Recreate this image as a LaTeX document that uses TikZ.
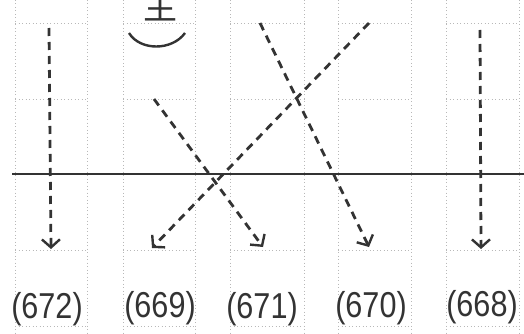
\documentclass[tikz,border=0pt]{standalone}
\usepackage{fontspec}
\setmainfont{Liberation Sans}
\newfontfamily\cjkfont{Noto Sans CJK SC}
\usetikzlibrary{arrows.meta}
\definecolor{ink}{HTML}{333333}
\definecolor{gridc}{HTML}{B8B8B8}
\tikzset{
  gridline/.style={gridc, line width=0.8pt, dash pattern=on 1pt off 2.5pt},
  dasharrow/.style={ink, line width=2.8pt, dash pattern=on 8pt off 6pt,
    -{Straight Barb[length=8pt,width=18pt,line width=2.4pt]}},
  label/.style={ink, font=\fontsize{36}{40}\selectfont, inner sep=0pt},
  baseline/.style={ink, line width=2.6pt}
}
\begin{document}
\begin{tikzpicture}[x=1pt,y=-1pt]
\useasboundingbox (0,0) rectangle (524,334);
\clip (0,0) rectangle (524,334);
% dotted grid columns
\foreach \l/\r in {15/87,123/195,230/304,338/411,446/519}{
  \draw[gridline] (\l,0) -- (\l,334);
  \draw[gridline] (\r,0) -- (\r,334);
  \foreach \y in {23,99,250,326}{
    \draw[gridline] (\l,\y) -- (\r,\y);
  }
}
% character and arc
\node[ink, font=\cjkfont\fontsize{34}{34}\selectfont, inner sep=0pt] (zhu) at (160,6) {主};
\coordinate (arcL) at (129,33);
\coordinate (arcR) at (185,33);
\draw[ink, line width=2.4pt] (arcL) .. controls (140,51) and (172,51) .. (arcR);
% solid baseline
\coordinate (bl) at (12,174);
\coordinate (br) at (524,174);
\draw[baseline] (bl) -- (br);
% labels
\node[label] (l672) at (47,309) {\scalebox{0.85}[1]{(672)}};
\node[label] (l669) at (160,308) {\scalebox{0.85}[1]{(669)}};
\node[label] (l671) at (262,309) {\scalebox{0.85}[1]{(671)}};
\node[label] (l670) at (371,308) {\scalebox{0.85}[1]{(670)}};
\node[label] (l668) at (482,307) {\scalebox{0.85}[1]{(668)}};
% arrow endpoints
\coordinate (s1) at (49,28);   \coordinate (t1) at (51,249);
\coordinate (s5) at (480,30);  \coordinate (t5) at (481,249);
\coordinate (sC) at (369,23);  \coordinate (tC) at (152,248);
\coordinate (sA) at (260,23);  \coordinate (tA) at (369,247);
\coordinate (sB) at (154,99);  \coordinate (tB) at (263,247);
\draw[dasharrow] (s1) -- (t1);
\draw[dasharrow] (s5) -- (t5);
\draw[dasharrow] (sC) -- (tC);
\draw[dasharrow] (sA) -- (tA);
\draw[dasharrow] (sB) -- (tB);
\end{tikzpicture}
\end{document}
